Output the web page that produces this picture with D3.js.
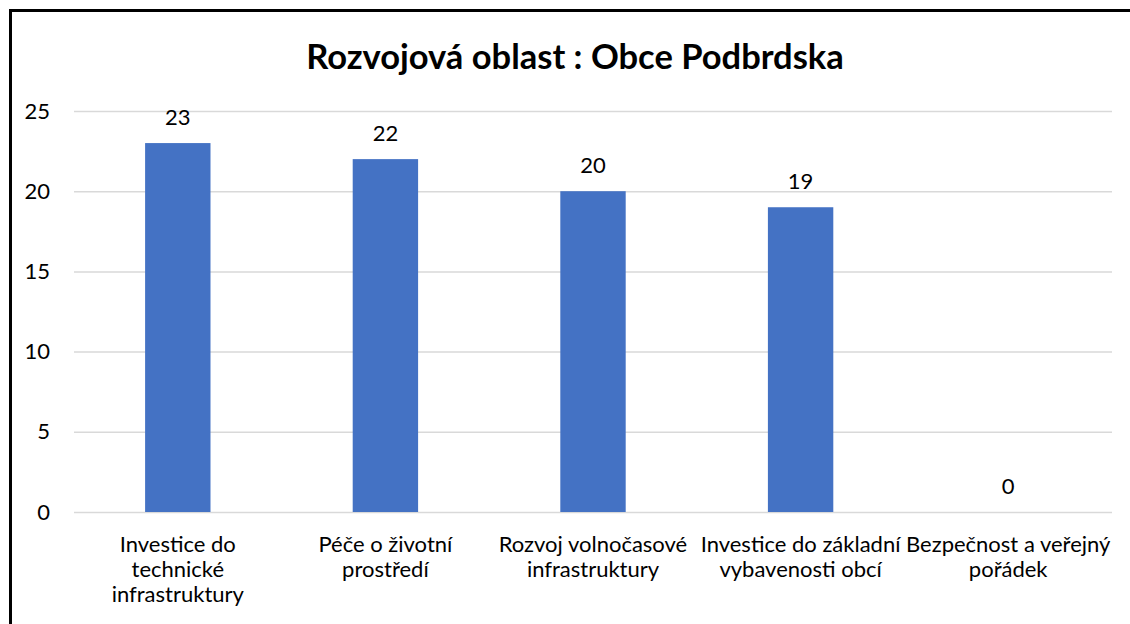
<!DOCTYPE html>
<html>
<head>
<meta charset="utf-8">
<script src="https://cdn.jsdelivr.net/npm/d3@7"></script>
<style>
  body { margin: 0; background: #fff; }
  text { font-family: Lato, "Open Sans", sans-serif; fill: #000; }
</style>
</head>
<body>
<div class="chart"></div>
<script>
const title = "Rozvojová oblast : Obce Podbrdska";
const categories = [
    "Investice do\ntechnické\ninfrastruktury",
    "Péče o životní\nprostředí",
    "Rozvoj volnočasové\ninfrastruktury",
    "Investice do základní\nvybavenosti obcí",
    "Bezpečnost a veřejný\npořádek"
];
const values = [23, 22, 20, 19, 0];
const yTicks = [0, 5, 10, 15, 20, 25];

const width = 1130;
const height = 624;
const margin = {left: 74, right: 18, top: 111, bottom: 112};

const svg = d3.select(".chart")
    .append("svg")
    .attr("width", width)
    .attr("height", height);

// outer frame (runs past the right and bottom edges)
svg.append("rect")
    .attr("x", 10.5)
    .attr("y", 10.5)
    .attr("width", width + 20)
    .attr("height", height + 20)
    .attr("fill", "none")
    .attr("stroke", "#000")
    .attr("stroke-width", 3);

const x = d3.scaleBand()
    .domain(categories)
    .range([margin.left, width - margin.right])
    .paddingInner(0.685)
    .paddingOuter(0.3425);

const y = d3.scaleLinear()
    .domain([0, 25])
    .range([height - margin.bottom, margin.top]);

const grid = svg.append("g")
    .attr("transform", `translate(${margin.left},0)`)
    .call(d3.axisLeft(y).tickValues(yTicks).tickSize(-(width - margin.right - margin.left)).tickPadding(24));
grid.select(".domain").remove();
grid.selectAll(".tick line").attr("stroke", "#d9d9d9").attr("stroke-width", 1.5);
grid.selectAll(".tick text")
    .attr("font-size", 22)
    .attr("font-family", null)
    .attr("fill", "#000");

svg.selectAll("rect.bar")
    .data(values)
    .join("rect")
    .attr("class", "bar")
    .attr("x", (d, i) => x(categories[i]))
    .attr("y", d => y(d))
    .attr("width", x.bandwidth())
    .attr("height", d => y(0) - y(d))
    .attr("fill", "#4472c4");

svg.selectAll("text.value")
    .data(values)
    .join("text")
    .attr("class", "value")
    .attr("x", (d, i) => x(categories[i]) + x.bandwidth() / 2)
    .attr("y", d => y(d) - 18)
    .attr("text-anchor", "middle")
    .attr("font-size", 22)
    .text(d => d);

const labels = svg.selectAll("text.cat")
    .data(categories)
    .join("text")
    .attr("class", "cat")
    .attr("text-anchor", "middle")
    .attr("font-size", 22)
    .attr("x", d => x(d) + x.bandwidth() / 2)
    .attr("y", y(0) + 40);

labels.selectAll("tspan")
    .data(d => d.split("\n"))
    .join("tspan")
    .attr("x", function() { return this.parentNode.getAttribute("x"); })
    .attr("dy", (d, i) => i === 0 ? 0 : 25)
    .text(d => d);

svg.append("text")
    .attr("x", 575)
    .attr("y", 69)
    .attr("text-anchor", "middle")
    .attr("font-size", 34.5)
    .attr("font-weight", "bold")
    .text(title);
</script>
</body>
</html>
